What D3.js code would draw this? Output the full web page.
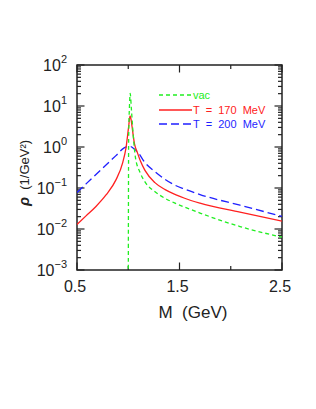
<!DOCTYPE html>
<html><head><meta charset="utf-8">
<script src="https://cdn.jsdelivr.net/npm/d3@7"></script>
<style>body{margin:0;background:#fff}svg{display:block}text{font-family:"Liberation Sans",Arial,sans-serif;}</style>
</head><body><svg id="c" width="316" height="409"></svg>
<script>
const massVac = [1.0, 1.004, 1.012, 1.019, 1.03, 1.04, 1.07, 1.115, 1.163, 1.261, 1.359, 1.456, 1.554, 1.70, 2.09, 2.5];
const rhoVac  = [1e-4, 1.6, 10, 20.4, 8.9, 3.8, 0.56, 0.24, 0.141, 0.081, 0.056, 0.0427, 0.0339, 0.0245, 0.0115, 0.0063];
const mass170 = [0.5, 0.588, 0.685, 0.783, 0.88, 0.946, 0.978, 1.004, 1.017, 1.028, 1.037, 1.06, 1.09, 1.12, 1.163, 1.26, 1.36, 1.46, 1.55, 1.70, 2.09, 2.5];
const rho170  = [0.0129, 0.0209, 0.0355, 0.0676, 0.158, 0.417, 0.955, 3.16, 5.7, 4.6, 3.16, 1.23, 0.72, 0.447, 0.269, 0.135, 0.0912, 0.0692, 0.0562, 0.0427, 0.0257, 0.0155];
const mass200 = [0.5, 0.588, 0.685, 0.783, 0.88, 0.96, 1.01, 1.06, 1.10, 1.163, 1.26, 1.36, 1.456, 1.554, 1.70, 2.09, 2.5];
const rho200  = [0.0776, 0.126, 0.214, 0.363, 0.617, 0.955, 1.05, 0.891, 0.708, 0.417, 0.251, 0.162, 0.117, 0.0933, 0.0692, 0.038, 0.0204];
const seriesNames = ["vac", "T  =  170  MeV", "T  =  200  MeV"];
const xTickLabels = [0.5, 1.5, 2.5];
const xMinorTicks = [1.0, 2.0];
const yExponents = [2, 1, 0, -1, -2, -3];

const svg = d3.select("#c");
const L = 77, R = 282, T = 65, B = 270;
const x = d3.scaleLinear().domain([0.5, 2.5]).range([L, R]);
const y = d3.scaleLog().domain([1e-3, 1e2]).range([B, T]);
const axisCol = "#222";

svg.append("defs").append("clipPath").attr("id", "clip")
  .append("rect").attr("x", L).attr("y", T).attr("width", R - L).attr("height", B - T);

// ticks (inward on all sides)
const tg = svg.append("g").attr("stroke", axisCol).attr("stroke-width", 1.2);
function xt(v, len) {
  tg.append("line").attr("x1", x(v)).attr("x2", x(v)).attr("y1", B).attr("y2", B - len);
  tg.append("line").attr("x1", x(v)).attr("x2", x(v)).attr("y1", T).attr("y2", T + len);
}
xTickLabels.forEach(v => xt(v, 7.5));
xMinorTicks.forEach(v => xt(v, 4));
function yt(v, len) {
  tg.append("line").attr("x1", L).attr("x2", L + len).attr("y1", y(v)).attr("y2", y(v));
  tg.append("line").attr("x1", R).attr("x2", R - len).attr("y1", y(v)).attr("y2", y(v));
}
y.ticks().forEach(v => {
  const e = Math.log10(v);
  yt(v, Math.abs(e - Math.round(e)) < 1e-9 ? 7.5 : 4);
});

// frame
svg.append("rect").attr("x", L).attr("y", T).attr("width", R - L).attr("height", B - T)
  .attr("fill", "none").attr("stroke", axisCol).attr("stroke-width", 1.5);

// x labels
xTickLabels.forEach(v => {
  svg.append("text").attr("x", x(v) - 2).attr("y", 292).attr("text-anchor", "middle")
    .attr("font-size", 16).attr("fill", axisCol).text(v.toFixed(1));
});
svg.append("text").attr("x", 193).attr("y", 318).attr("text-anchor", "middle")
  .attr("font-size", 17).attr("fill", axisCol).style("white-space", "pre").text("M  (GeV)");

// y labels
yExponents.forEach(e => {
  const t = svg.append("text").attr("x", 67).attr("y", y(Math.pow(10, e)) + 6)
    .attr("text-anchor", "end").attr("fill", axisCol);
  t.append("tspan").attr("font-size", 16).text("10");
  t.append("tspan").attr("font-size", 11).attr("dy", -8).text(e < 0 ? "\u2212" + (-e) : String(e));
});
const yl = svg.append("text").attr("transform", "translate(29,173) rotate(-90)")
  .attr("text-anchor", "middle").attr("fill", axisCol).style("white-space", "pre");
yl.append("tspan").attr("font-size", 15).attr("font-style", "italic").attr("font-weight", "bold").text("\u03C1");
yl.append("tspan").attr("font-size", 13).text("  (1/GeV\u00B2)");

// curves
const line = d3.line().x(d => x(d[0])).y(d => y(d[1])).curve(d3.curveMonotoneX);
const pg = svg.append("g").attr("clip-path", "url(#clip)").attr("fill", "none");
const series = [
  {m: mass200, r: rho200, c: "#1f1fff", dash: "8,4"},
  {m: mass170, r: rho170, c: "#ff2020", dash: null},
  {m: massVac, r: rhoVac, c: "#22ee22", dash: "4,3"}
];
series.forEach(s => {
  const p = pg.append("path").attr("d", line(s.m.map((v, i) => [v, s.r[i]])))
    .attr("stroke", s.c).attr("stroke-width", 1.3);
  if (s.dash) p.attr("stroke-dasharray", s.dash);
});

// legend
const legend = [
  {c: "#22ee22", dash: "4,3", y: 95},
  {c: "#ff2020", dash: null, y: 110},
  {c: "#1f1fff", dash: "8,4", y: 124}
];
legend.forEach((d, i) => {
  const l = svg.append("line").attr("x1", 159).attr("x2", 192).attr("y1", d.y).attr("y2", d.y)
    .attr("stroke", d.c).attr("stroke-width", 1.3);
  if (d.dash) l.attr("stroke-dasharray", d.dash);
  svg.append("text").attr("x", 193).attr("y", d.y + 4).attr("font-size", 11)
    .attr("fill", d.c).style("white-space", "pre").text(seriesNames[i]);
});
</script></body></html>
